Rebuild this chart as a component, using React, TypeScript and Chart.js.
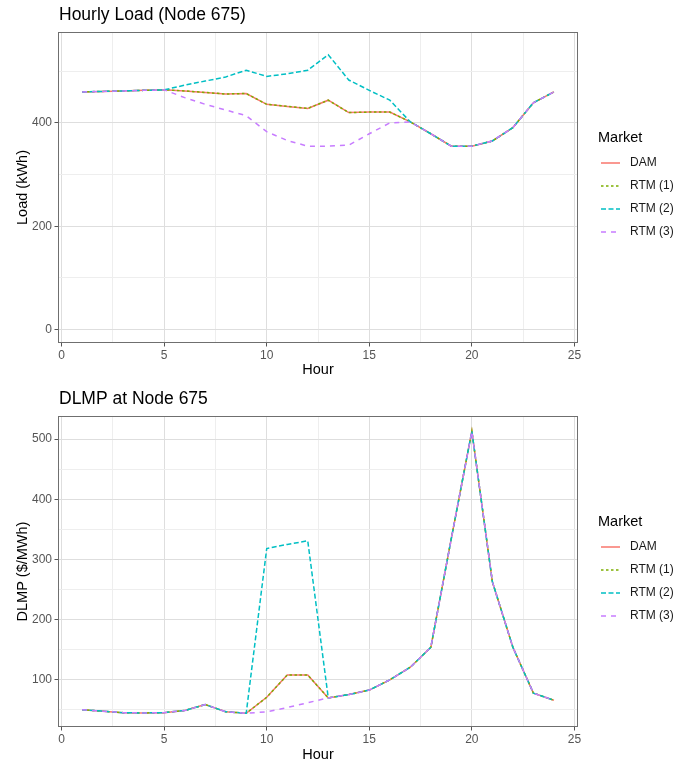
import React, { useEffect, useRef } from 'react';
import { Chart, registerables } from 'chart.js';

Chart.register(...registerables);

const hours = [1, 2, 3, 4, 5, 6, 7, 8, 9, 10, 11, 12, 13, 14, 15, 16, 17, 18, 19, 20, 21, 22, 23, 24];

const seriesNames = ['DAM', 'RTM (1)', 'RTM (2)', 'RTM (3)'];
const seriesColors = ['#F8766D', '#7CAE00', '#00BFC4', '#C77CFF'];
const seriesDashes = [[], [2.5, 2.5], [5, 2.5], [5, 5]];

// Hourly load (kWh)
const loadDAM = [460, 461, 462, 463, 464, 462, 459, 456, 457, 436, 432, 428, 444, 420, 421, 421, 402, 379, 355, 355, 365, 391, 439, 460];
const loadRTM1 = [460, 461, 462, 463, 464, 462, 459, 456, 457, 436, 432, 428, 444, 420, 421, 421, 402, 379, 355, 355, 365, 391, 439, 460];
const loadRTM2 = [460, 461, 462, 463, 464, 473, 481, 489, 502, 490, 495, 502, 532, 483, 463, 444, 402, 379, 355, 355, 365, 391, 439, 460];
const loadRTM3 = [460, 461, 462, 463, 464, 449, 436, 425, 414, 383, 366, 355, 355, 357, 379, 400, 402, 379, 355, 355, 365, 391, 439, 460];

// DLMP ($/MWh)
const dlmpDAM = [50.5, 48, 45.5, 45, 45.5, 49, 59, 47, 44.5, 71, 108, 108, 70, 75.5, 83, 100, 121, 154, 335, 513, 263, 154, 78, 66];
const dlmpRTM1 = [50.5, 48, 45.5, 45, 45.5, 49, 59, 47, 44.5, 71, 108, 108, 70, 75.5, 83, 100, 121, 154, 335, 513, 263, 154, 78, 66];
const dlmpRTM2 = [50.5, 48, 45.5, 45, 45.5, 49, 59, 47, 44.5, 318, 325, 331, 70, 75.5, 83, 100, 121, 154, 335, 513, 263, 154, 78, 66];
const dlmpRTM3 = [50.5, 48, 45.5, 45, 45.5, 49, 59, 47, 44.5, 47, 54, 62, 70, 75.5, 83, 100, 121, 154, 335, 513, 263, 154, 78, 66];

const xTicks = [0, 2.5, 5, 7.5, 10, 12.5, 15, 17.5, 20, 22.5, 25];
const xMajor = [0, 5, 10, 15, 20, 25];
const loadTicks = [0, 100, 200, 300, 400, 500];
const loadMajor = [0, 200, 400];
const dlmpTicks = [50, 100, 150, 200, 250, 300, 350, 400, 450, 500];
const dlmpMajor = [100, 200, 300, 400, 500];

const FONT = '"Liberation Sans", Arial, Helvetica, sans-serif';
const W = 697;
const H = 383;

type Cfg = {
  title: string;
  yTitle: string;
  series: number[][];
  yMin: number;
  yMax: number;
  yTicks: number[];
  yMajor: number[];
  padTop: number;
  bottomPx: number;
  xTitlePad: number;
  titleY: number;
};

function buildChart(canvas: HTMLCanvasElement, c: Cfg) {
  const order = [3, 2, 1, 0];
  const datasets = c.series.map((vals, i) => ({
    label: seriesNames[i],
    data: hours.map((h, j) => ({ x: h, y: vals[j] })),
    borderColor: seriesColors[i],
    backgroundColor: seriesColors[i],
    borderDash: seriesDashes[i],
    borderWidth: 1.5,
    pointRadius: 0,
    tension: 0,
    fill: false,
    order: order[i],
  }));

  const decor = {
    id: 'decor',
    afterDraw(chart: any) {
      const { ctx, chartArea: a } = chart;
      ctx.save();
      ctx.strokeStyle = '#6f6f6f';
      ctx.lineWidth = 1;
      ctx.setLineDash([]);
      ctx.strokeRect(a.left, a.top, a.right - a.left, a.bottom - a.top);
      // title
      ctx.fillStyle = '#000';
      ctx.font = `17.5px ${FONT}`;
      ctx.textAlign = 'left';
      ctx.textBaseline = 'middle';
      ctx.fillText(c.title, a.left + 0.5, c.titleY);
      // legend
      const cy = (a.top + a.bottom) / 2;
      ctx.font = `14.5px ${FONT}`;
      ctx.fillText('Market', 598, cy - 49.5);
      ctx.font = `12px ${FONT}`;
      for (let i = 0; i < seriesNames.length; i++) {
        const y = cy - 24.5 + 23 * i;
        ctx.strokeStyle = seriesColors[i];
        ctx.lineWidth = 1.5;
        ctx.setLineDash(seriesDashes[i]);
        ctx.beginPath();
        ctx.moveTo(601, y);
        ctx.lineTo(620, y);
        ctx.stroke();
        ctx.setLineDash([]);
        ctx.fillStyle = '#1a1a1a';
        ctx.fillText(seriesNames[i], 630, y);
      }
      ctx.restore();
    },
  };

  return new Chart(canvas, {
    type: 'line',
    data: { datasets },
    plugins: [decor],
    options: {
      animation: false,
      responsive: false,
      devicePixelRatio: 1,
      layout: { padding: { top: c.padTop, right: 119.5, bottom: 0, left: 0 } },
      plugins: { legend: { display: false }, title: { display: false }, tooltip: { enabled: false } },
      scales: {
        x: {
          type: 'linear',
          min: -0.15,
          max: 25.15,
          afterBuildTicks: (s: any) => {
            s.ticks = xTicks.map((v) => ({ value: v }));
          },
          afterFit: (s: any) => {
            s.height = H - c.bottomPx;
          },
          border: { display: false },
          grid: {
            color: (ctx: any) => (ctx.tick && xMajor.includes(ctx.tick.value) ? '#dedede' : '#eeeeee'),
            tickColor: (ctx: any) => (ctx.tick && xMajor.includes(ctx.tick.value) ? '#555' : 'rgba(0,0,0,0)'),
            tickLength: 4,
            lineWidth: 1,
          },
          ticks: {
            autoSkip: false,
            maxRotation: 0,
            padding: 2,
            color: '#555',
            font: { family: FONT, size: 12 },
            callback: (v: any) => (xMajor.includes(Number(v)) ? String(v) : ''),
          },
          title: {
            display: true,
            text: 'Hour',
            color: '#000',
            font: { family: FONT, size: 14.5 },
            padding: { top: 0, bottom: c.xTitlePad },
          },
        },
        y: {
          type: 'linear',
          min: c.yMin,
          max: c.yMax,
          afterBuildTicks: (s: any) => {
            s.ticks = c.yTicks.map((v) => ({ value: v }));
          },
          afterFit: (s: any) => {
            s.width = 58.5;
          },
          border: { display: false },
          grid: {
            color: (ctx: any) => (ctx.tick && c.yMajor.includes(ctx.tick.value) ? '#dedede' : '#eeeeee'),
            tickColor: (ctx: any) => (ctx.tick && c.yMajor.includes(ctx.tick.value) ? '#555' : 'rgba(0,0,0,0)'),
            tickLength: 4,
            lineWidth: 1,
          },
          ticks: {
            autoSkip: false,
            padding: 2.5,
            color: '#555',
            font: { family: FONT, size: 12 },
            callback: (v: any) => (c.yMajor.includes(Number(v)) ? String(v) : ''),
          },
          title: {
            display: true,
            text: c.yTitle,
            color: '#000',
            font: { family: FONT, size: 14.5 },
            padding: { top: 14, bottom: 0 },
          },
        },
      },
    },
  } as any);
}

function Panel({ cfg }: { cfg: Cfg }) {
  const ref = useRef<HTMLCanvasElement | null>(null);
  useEffect(() => {
    if (!ref.current) return;
    const ch = buildChart(ref.current, cfg);
    return () => ch.destroy();
  }, [cfg]);
  return <canvas ref={ref} width={W} height={H} style={{ display: 'block', width: W, height: H }} />;
}

const topCfg: Cfg = {
  title: 'Hourly Load (Node 675)',
  yTitle: 'Load (kWh)',
  series: [loadDAM, loadRTM1, loadRTM2, loadRTM3],
  yMin: -25,
  yMax: 575,
  yTicks: loadTicks,
  yMajor: loadMajor,
  padTop: 32.5,
  bottomPx: 342.5,
  xTitlePad: 4.3,
  titleY: 15.5,
};

const bottomCfg: Cfg = {
  title: 'DLMP at Node 675',
  yTitle: 'DLMP ($/MWh)',
  series: [dlmpDAM, dlmpRTM1, dlmpRTM2, dlmpRTM3],
  yMin: 22.5,
  yMax: 537.5,
  yTicks: dlmpTicks,
  yMajor: dlmpMajor,
  padTop: 33.5,
  bottomPx: 343.5,
  xTitlePad: 2.3,
  titleY: 16.5,
};

export default function App() {
  return (
    <div style={{ position: 'absolute', left: 0, top: 0, width: W, height: 766, background: '#fff' }}>
      <Panel cfg={topCfg} />
      <Panel cfg={bottomCfg} />
    </div>
  );
}
